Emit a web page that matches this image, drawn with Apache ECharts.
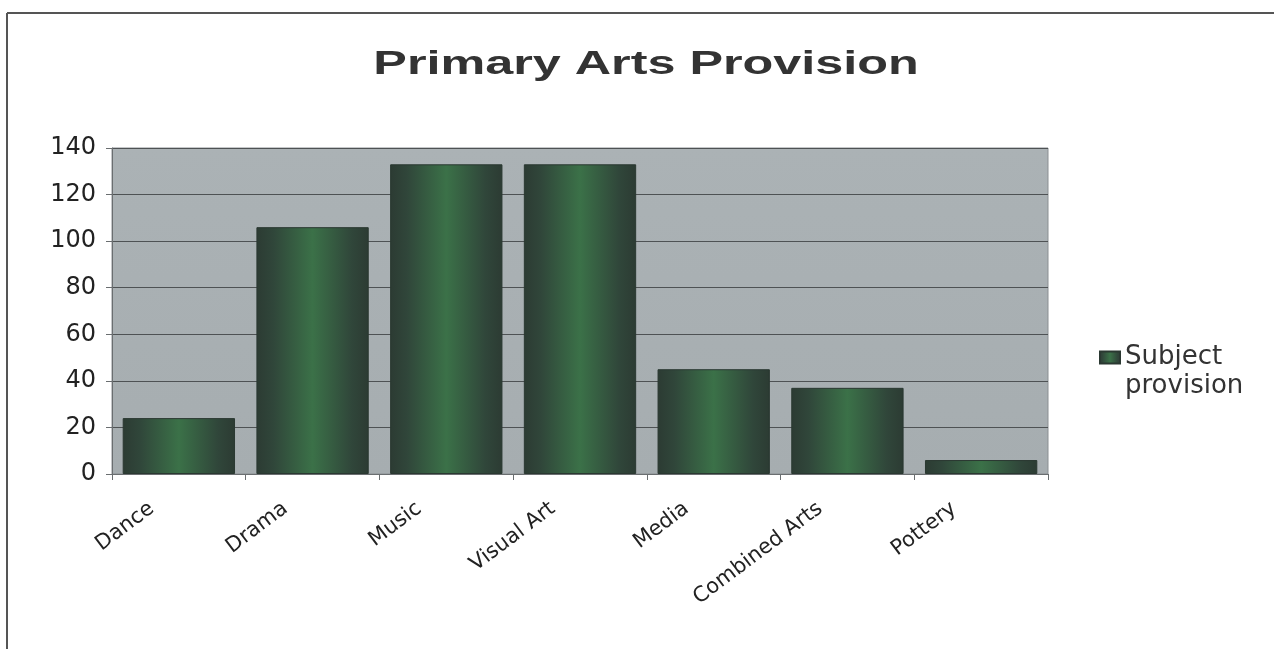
<!DOCTYPE html>
<html>
<head>
<meta charset="utf-8">
<script src="https://cdn.jsdelivr.net/npm/echarts@6/dist/echarts.min.js"></script>
<style>html,body{margin:0;padding:0;background:#fff;}#c{width:1274px;height:649px;}</style>
</head>
<body>
<div id="c"></div>
<script>
const categories = ['Dance', 'Drama', 'Music', 'Visual Art', 'Media', 'Combined Arts', 'Pottery'];
const subjectProvision = [24, 106, 133, 133, 45, 37, 6];
const yTicks = { min: 0, max: 140, interval: 20 };
const seriesName = 'Subject provision';
const titleText = 'Primary Arts Provision';

const chart = echarts.init(document.getElementById('c'), null, { renderer: 'canvas' });
const FONT = '"DejaVu Sans", "Liberation Sans", Arial, sans-serif';
chart.setOption({
  backgroundColor: '#ffffff',
  animation: false,
  legend: {
    left: 1099, top: 314, padding: 0,
    data: [seriesName],
    icon: 'rect', itemWidth: 20, itemHeight: 12, itemGap: 8,
    formatter: () => '\nSubject\nprovision',
    textStyle: { fontFamily: FONT, fontSize: 26, color: '#333333', lineHeight: 29 }
  },
  grid: {
    left: 112, right: 226, top: 148, bottom: 175,
    show: true,
    backgroundColor: new echarts.graphic.LinearGradient(0, 0, 0, 1, [
      { offset: 0, color: '#abb2b5' }, { offset: 1, color: '#a6adb0' }
    ]),
    borderColor: '#8a8f92', borderWidth: 1
  },
  xAxis: {
    type: 'category', data: categories,
    axisLine: { show: true, lineStyle: { color: '#6a6e70', width: 1 } },
    axisTick: { show: true, length: 6, lineStyle: { color: '#6a6e70' } },
    axisLabel: {
      rotate: 37, margin: 12, interval: 0,
      fontFamily: FONT, fontSize: 21, color: '#222222',
      padding: [0, 34, 0, 0]
    }
  },
  yAxis: {
    type: 'value', min: yTicks.min, max: yTicks.max, interval: yTicks.interval,
    axisLine: { show: true, lineStyle: { color: '#6a6e70', width: 1 } },
    axisTick: { show: true, length: 6, lineStyle: { color: '#6a6e70' } },
    axisLabel: { fontFamily: FONT, fontSize: 24, color: '#222222', margin: 16 },
    splitLine: { show: true, lineStyle: { color: '#4e5254', width: 1 } }
  },
  series: [{
    name: seriesName,
    type: 'bar',
    data: subjectProvision,
    barCategoryGap: '16%',
    itemStyle: {
      color: new echarts.graphic.LinearGradient(0, 0, 1, 0, [
        { offset: 0, color: '#2c3b33' },
        { offset: 0.15, color: '#30463a' },
        { offset: 0.5, color: '#3b7148' },
        { offset: 0.85, color: '#30463a' },
        { offset: 1, color: '#2c3b33' }
      ]),
      borderColor: '#2a3831', borderWidth: 1
    }
  }],
  graphic: [
    { type: 'line', shape: { x1: 7, y1: 13, x2: 1274, y2: 13 }, style: { stroke: '#555', lineWidth: 2 } },
    { type: 'line', shape: { x1: 7, y1: 13, x2: 7, y2: 649 }, style: { stroke: '#555', lineWidth: 2 } },
    { type: 'text', x: 646, y: 65, scaleX: 1.48, scaleY: 1,
      style: { text: titleText, font: 'bold 34px "Liberation Sans", Arial, sans-serif', fill: '#333333', align: 'center', verticalAlign: 'middle' } }
  ]
});
</script>
</body>
</html>
